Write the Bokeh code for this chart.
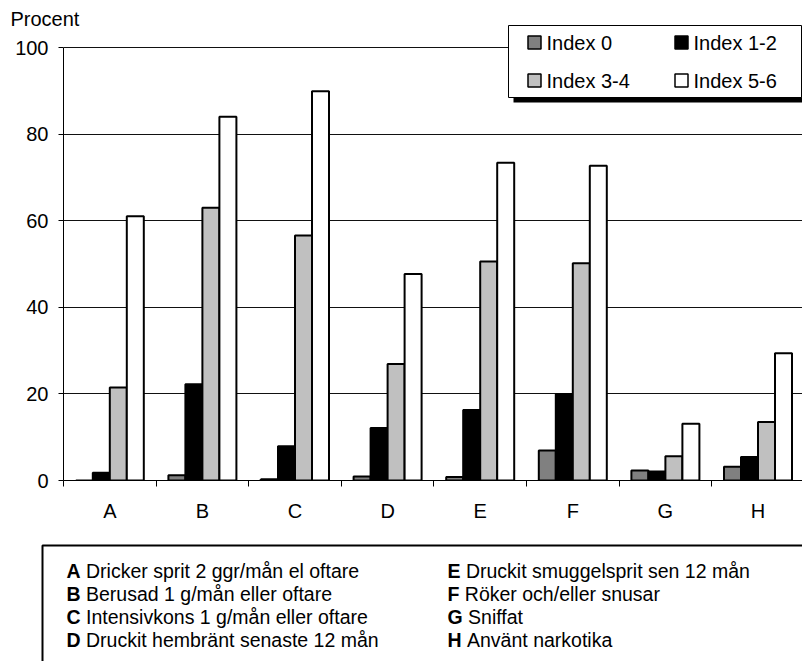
from bokeh.plotting import figure
from bokeh.models import Range1d, FixedTicker, ColumnDataSource
from bokeh.layouts import column, row
from bokeh.transform import dodge
from bokeh.embed import file_html
from bokeh.resources import INLINE
from bokeh.core.properties import value

# ---------------- data ----------------
categories = ["A", "B", "C", "D", "E", "F", "G", "H"]
series_names = ["Index 0", "Index 1-2", "Index 3-4", "Index 5-6"]
index_0 = [0.0, 1.2, 0.3, 0.9, 0.8, 6.9, 2.3, 3.2]
index_1_2 = [1.8, 22.2, 7.9, 12.1, 16.3, 20.0, 2.1, 5.4]
index_3_4 = [21.5, 63.0, 56.6, 26.9, 50.6, 50.2, 5.6, 13.5]
index_5_6 = [61.0, 84.0, 89.9, 47.7, 73.4, 72.7, 13.1, 29.4]
y_ticks = [0, 20, 40, 60, 80, 100]
descriptions = [
    "Dricker sprit 2 ggr/mån el oftare",
    "Berusad 1 g/mån eller oftare",
    "Intensivkons 1 g/mån eller oftare",
    "Druckit hembränt senaste 12 mån",
    "Druckit smuggelsprit sen 12 mån",
    "Röker och/eller snusar",
    "Sniffat",
    "Använt narkotika",
]
y_label = "Procent"

# ---------------- styles ----------------
colors = ["#808080", "#000000", "#c0c0c0", "#ffffff"]
FONT = "Liberation Sans"
bar_w = 0.1836
bold_w = {"A": 0.722, "B": 0.722, "C": 0.722, "D": 0.722, "E": 0.667,
          "F": 0.611, "G": 0.778, "H": 0.722}

W = 802
H1 = 535
H2 = 661 - H1
TOP = 24      # frame top (screen px)
BOT = 480     # frame bottom (screen px) = value 0
LEFT = 63

series = [index_0, index_1_2, index_3_4, index_5_6]
keys = ["s0", "s1", "s2", "s3"]
data = {"x": [i + 0.5 for i in range(len(categories))]}
for k, s in zip(keys, series):
    data[k] = s
src = ColumnDataSource(data)

px_per_val = (BOT - 47) / 100.0
px_per_cat = 92.6
p = figure(width=W, height=H1,
           x_range=Range1d(0, (W - LEFT) / px_per_cat),
           y_range=Range1d(0, (BOT - TOP) / px_per_val),
           min_border_left=LEFT, min_border_right=0, min_border_top=TOP,
           min_border_bottom=H1 - BOT,
           output_backend="svg", toolbar_location=None, outline_line_color=None,
           background_fill_color="white", border_fill_color="white")

# title used as the "Procent" unit label at top-left
p.title.text = y_label
p.title.align = "left"
p.title.offset = -53
p.title.standoff = -10
p.title.text_font = FONT
p.title.text_font_size = "20px"
p.title.text_font_style = "normal"
p.title.text_color = "black"

# pixel-like extra ranges (screen coordinates) for layout items
p.extra_x_ranges = {"px": Range1d(LEFT, W)}
p.extra_y_ranges = {"px": Range1d(BOT, TOP)}

# grid
p.xgrid.visible = False
p.ygrid.ticker = FixedTicker(ticks=y_ticks[1:])
p.ygrid.grid_line_color = "#111111"
p.ygrid.grid_line_width = 1

# x axis
xa = p.xaxis[0]
xa.ticker = FixedTicker(ticks=[i + 0.5 for i in range(len(categories))],
                        minor_ticks=list(range(len(categories) + 1)))
xa.major_label_overrides = {i + 0.5: c for i, c in enumerate(categories)}
xa.major_tick_line_color = None
xa.major_tick_out = 0
xa.major_tick_in = 0
xa.minor_tick_line_color = "black"
xa.minor_tick_out = 6
xa.minor_tick_in = 0
xa.major_label_standoff = 13
xa.axis_line_color = "black"
xa.major_label_text_font = FONT
xa.major_label_text_font_size = "20px"
xa.major_label_text_color = "black"

# y axis
ya = p.yaxis[0]
ya.ticker = FixedTicker(ticks=y_ticks)
ya.bounds = (0, 100)
ya.major_tick_out = 5
ya.major_tick_in = 0
ya.minor_tick_line_color = None
ya.major_label_standoff = 10
ya.axis_line_color = "black"
ya.major_label_text_font = FONT
ya.major_label_text_font_size = "20px"
ya.major_label_text_color = "black"

# bars
for j, (k, c) in enumerate(zip(keys, colors)):
    p.vbar(x=dodge("x", (j - 1.5) * bar_w, range=p.x_range), top=k, width=bar_w,
           bottom=0, source=src, fill_color=c, line_color="black", line_width=2)

# legend (drawn in screen-like px coordinates)
p.quad(left=513, right=812, top=30, bottom=102, x_range_name="px", y_range_name="px",
       fill_color="black", line_color=None)
p.quad(left=508, right=801, top=25, bottom=97, x_range_name="px", y_range_name="px",
       fill_color="white", line_color="black", line_width=1)
lx = [534.0, 681.0]
ly = [42.0, 80.0]
sq_x = [lx[k % 2] for k in range(4)]
sq_y = [ly[k // 2] for k in range(4)]
p.rect(x=sq_x, y=sq_y, width=13, height=13, x_range_name="px", y_range_name="px",
       fill_color=colors, line_color="black", line_width=1.5)
p.text(x=[v + 12 for v in sq_x], y=sq_y, text=series_names, x_range_name="px", y_range_name="px",
       text_baseline="middle", text_align="left", text_font=value(FONT),
       text_font_size="20px", text_color="black")

# bottom description box
p2 = figure(width=W, height=H2, x_range=Range1d(0, W), y_range=Range1d(661, H1),
            min_border=0, min_border_left=0, min_border_right=0,
            min_border_top=0, min_border_bottom=0,
            x_axis_type=None, y_axis_type=None,
            output_backend="svg", toolbar_location=None, outline_line_color=None,
            background_fill_color="white", border_fill_color="white")
p2.xgrid.visible = False
p2.ygrid.visible = False
p2.quad(left=42, right=830, top=545, bottom=700, fill_color=None, line_color="black", line_width=2)

FS = 19.5
col_x = [66, 447]
row_y = [570, 593, 616, 639]
bx, by, dx = [], [], []
for i, c in enumerate(categories):
    x0 = col_x[i // 4]
    bx.append(x0)
    by.append(row_y[i % 4])
    dx.append(x0 + (bold_w[c] + 0.278) * FS)
p2.text(x=bx, y=by, text=categories, text_baseline="middle", text_align="left",
        text_font=value(FONT), text_font_style="bold", text_font_size=f"{FS}px", text_color="black")
p2.text(x=dx, y=by, text=descriptions, text_baseline="middle", text_align="left",
        text_font=value(FONT), text_font_size=f"{FS}px", text_color="black")

layout = column(p, row(p2), spacing=0)
open("out.html", "w").write(file_html(layout, INLINE))
